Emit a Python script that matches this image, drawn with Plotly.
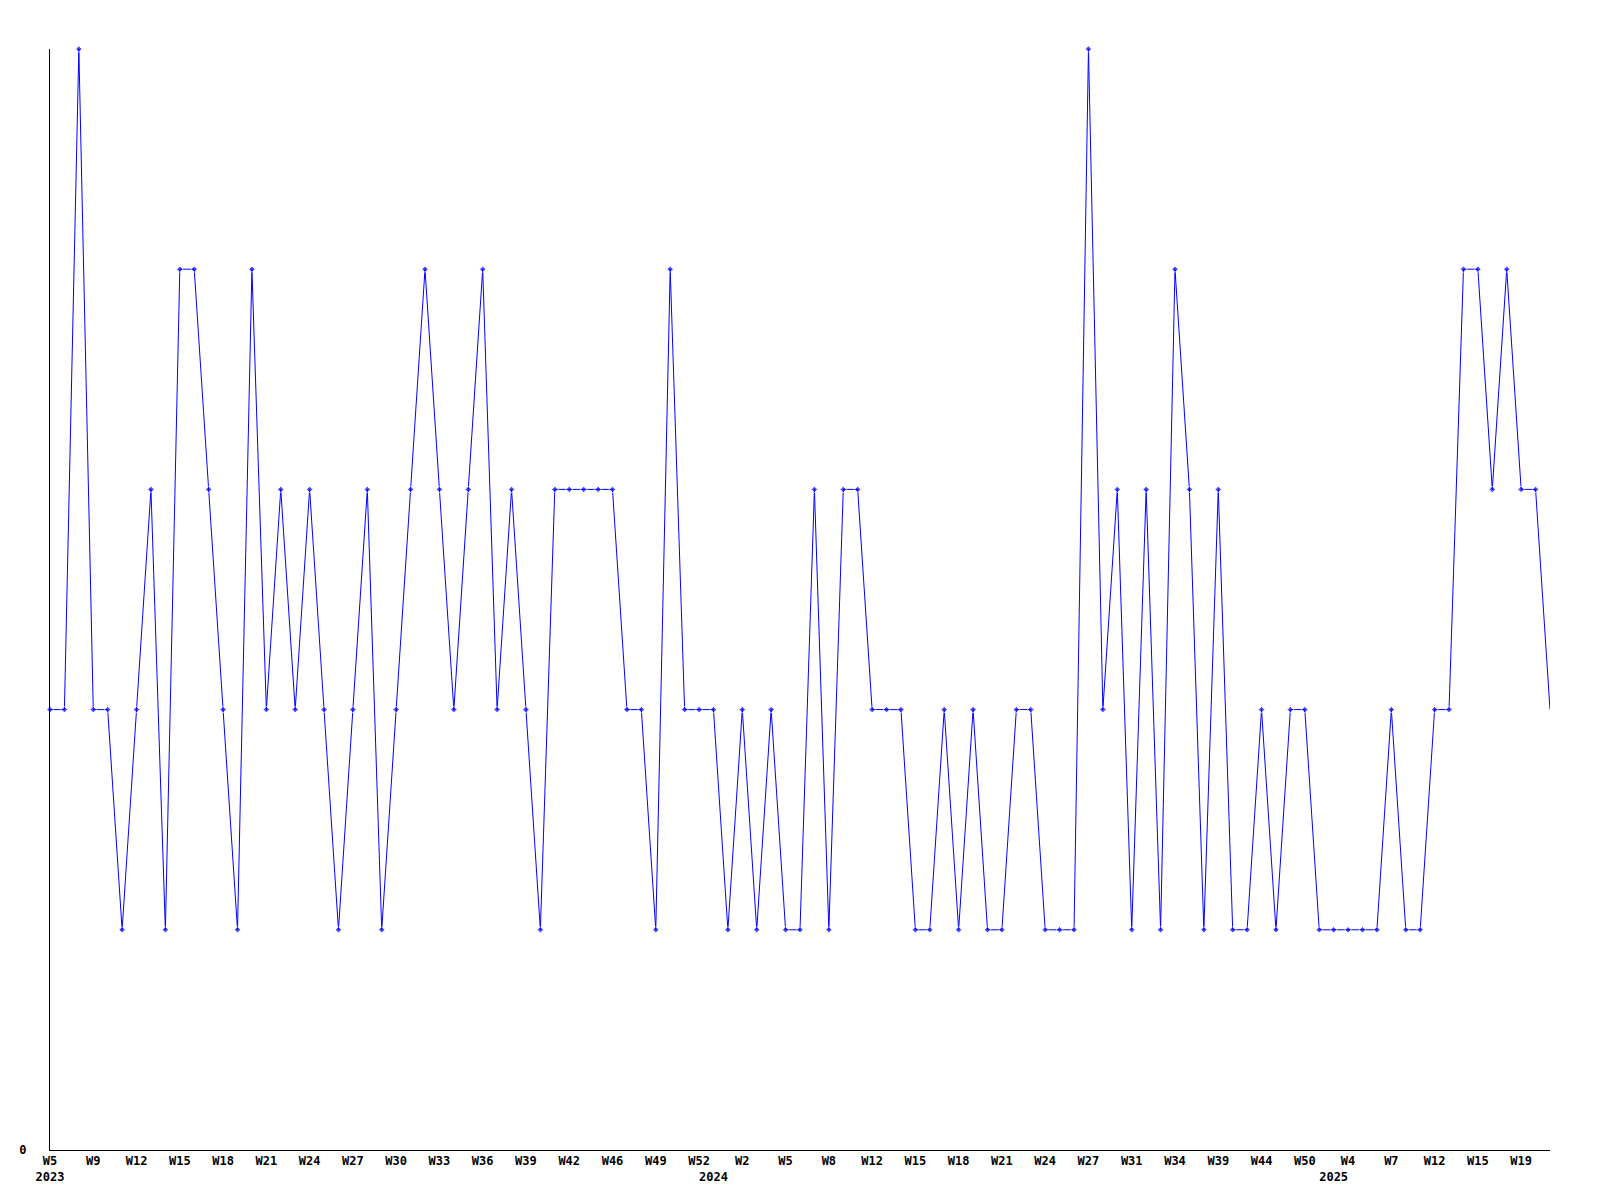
import plotly.graph_objects as go

# Weekly values (one per category, in order)
values = [2, 2, 5, 2, 2, 1, 2, 3, 1, 4,
          4, 3, 2, 1, 4, 2, 3, 2, 3, 2,
          1, 2, 3, 1, 2, 3, 4, 3, 2, 3,
          4, 2, 3, 2, 1, 3, 3, 3, 3, 3,
          2, 2, 1, 4, 2, 2, 2, 1, 2, 1,
          2, 1, 1, 3, 1, 3, 3, 2, 2, 2,
          1, 1, 2, 1, 2, 1, 1, 2, 2, 1,
          1, 1, 5, 2, 3, 1, 3, 1, 4, 3,
          1, 3, 1, 1, 2, 1, 2, 2, 1, 1,
          1, 1, 1, 2, 1, 1, 2, 2, 4, 4,
          3, 4, 3, 3, 2]

# Week tick labels shown on every third category
week_labels = ["W5", "W9", "W12", "W15", "W18", "W21", "W24", "W27", "W30", "W33",
               "W36", "W39", "W42", "W46", "W49", "W52", "W2", "W5", "W8", "W12",
               "W15", "W18", "W21", "W24", "W27", "W31", "W34", "W39", "W44", "W50",
               "W4", "W7", "W12", "W15", "W19"]
label_step = 3

# Year labels: category index where each year starts
year_labels = ["2023", "2024", "2025"]
year_index = [0, 46, 89]

x = list(range(len(values)))

ticks = {}
for k, lab in enumerate(week_labels):
    ticks[x[k * label_step]] = lab
for yi, ylab in zip(year_index, year_labels):
    ticks[yi] = ticks.get(yi, "") + "<br>" + ylab
tickvals = sorted(ticks)
ticktext = [ticks[v] for v in tickvals]

# last point is drawn as line end only (no marker)
marker_sizes = [5] * (len(values) - 1) + [0]

fig = go.Figure()
fig.add_trace(go.Scatter(
    x=x, y=values, mode="lines+markers",
    line=dict(color="#0000FF", width=1),
    marker=dict(symbol="diamond", size=marker_sizes, color="#0000FF"),
    cliponaxis=False,
    showlegend=False, hoverinfo="skip",
))

font = dict(family="DejaVu Sans Mono", size=12, color="black", weight="bold")

fig.update_layout(
    width=1600, height=1200,
    margin=dict(l=42, r=58, t=41, b=58),
    paper_bgcolor="white", plot_bgcolor="white",
    font=font,
    xaxis=dict(
        range=[0, len(values) - 1],
        tickvals=tickvals, ticktext=ticktext,
        showgrid=False, zeroline=False,
        showline=True, linecolor="black", linewidth=1,
        ticks="", tickangle=0, tickfont=font,
    ),
    yaxis=dict(
        range=[0, 5],
        tickvals=[0], ticktext=["0"],
        showgrid=False, zeroline=False,
        showline=True, linecolor="black", linewidth=1,
        ticks="", ticklabelstandoff=20, tickfont=font,
    ),
)

fig.write_html("out.html")
